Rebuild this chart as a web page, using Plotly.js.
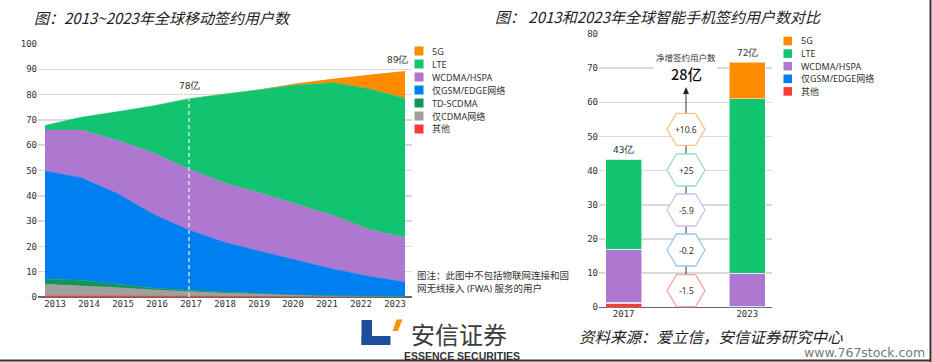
<!DOCTYPE html>
<html><head><meta charset="utf-8">
<script src="https://cdn.plot.ly/plotly-3.0.1.min.js"></script>
<style>html,body{margin:0;padding:0;background:#fff}#chart{width:932px;height:362px}</style>
</head><body><div id="chart"></div>
<script>
// ---------- data: left chart (亿 subscriptions) ----------
const years = [2013,2014,2015,2016,2017,2018,2019,2020,2021,2022,2023];
const yearLabels = years.map(String);
const areaNames = ['其他','仅CDMA网络','TD-SCDMA','仅GSM/EDGE网络','WCDMA/HSPA','LTE','5G'];
const subsOther   = [0.5,0.4,0.4,0.3,0.3,0.2,0.2,0.1,0.1,0.1,0.1];
const subsCDMA    = [4.5,4.0,3.3,2.5,1.7,1.3,1.0,0.7,0.3,0.2,0.1];
const subsTDSCDMA = [2.0,2.2,1.3,0.8,0.7,0.4,0.2,0.1,0.1,0.1,0.1];
const subsGSM     = [42.8,40.6,36.0,29.2,23.8,19.7,16.6,13.6,10.6,7.8,5.6];
const subsWCDMA   = [16.2,18.8,21.0,24.2,24.0,23.4,23.0,22.2,21.1,18.5,17.6];
const subsLTE     = [1.8,5.0,11.2,18.5,27.9,35.3,41.0,47.1,52.5,55.6,55.0];
const subs5G      = [0,0,0,0,0,0,0.1,0.7,1.6,5.5,10.8];
const markYears   = [2017,2023];
const markLabels  = ['78亿','89亿'];
const leftYTicks  = [0,10,20,30,40,50,60,70,80,90,100];

// ---------- data: right chart ----------
const barYears  = ['2017','2023'];
const barNames  = ['其他','仅GSM/EDGE网络','WCDMA/HSPA','LTE','5G'];
const barOther  = [1.2,0.2];
const barGSM    = [0.3,0.1];
const barWCDMA  = [15.5,9.7];
const barLTE    = [26.3,51.0];
const bar5G     = [0,10.7];
const barTotalLabels = ['43亿','72亿'];
const netChangeLabels = ['+10.6','+25','-5.9','-0.2','-1.5'];
const netChangeSeries = ['5G','LTE','WCDMA/HSPA','仅GSM/EDGE网络','其他'];
const netTitle = '净增签约用户数';
const netTotal = '28亿';
const rightYTicks = [0,10,20,30,40,50,60,70,80];

// ---------- styles ----------
const colors = {
  '5G':'#FF8C00','LTE':'#12C46F','WCDMA/HSPA':'#AE78D0','仅GSM/EDGE网络':'#0080F0',
  'TD-SCDMA':'#11965A','仅CDMA网络':'#A0A0A0','其他':'#FF3838'
};
const hexColors = {
  '5G':'#FFC28E','LTE':'#92E2B9','WCDMA/HSPA':'#D5BDE9','仅GSM/EDGE网络':'#95C6F8','其他':'#FFA3A3'
};
const W = 932, H = 362;
const PX = x => x / W, PY = y => 1 - y / H;
const mono = 'DejaVu Sans Mono, monospace';
const sans = 'Noto Sans, Noto Sans CJK SC, sans-serif';
const cjk = 'Noto Sans CJK SC, Noto Sans, sans-serif';

const areaSeries = [subsOther, subsCDMA, subsTDSCDMA, subsGSM, subsWCDMA, subsLTE, subs5G];
const traces = [];
areaSeries.forEach((vals, i) => {
  const name = areaNames[i];
  const is5G = name === '5G';
  traces.push({
    type:'scatter', x: years, y: vals, name, stackgroup:'one',
    mode: is5G ? 'none' : 'lines',
    line:{color: colors[name], width: is5G ? 0 : 0.6},
    fillcolor: colors[name], xaxis:'x', yaxis:'y', hoverinfo:'skip', showlegend:false
  });
});
// helper (invisible) trace carrying the year labels axis
traces.push({type:'scatter', x: years, y: years.map(() => 0), mode:'none', xaxis:'x3', yaxis:'y', hoverinfo:'skip', showlegend:false});

const barSeries = [barOther, barGSM, barWCDMA, barLTE, bar5G];
barSeries.forEach((vals, i) => {
  const name = barNames[i];
  traces.push({
    type:'bar', x: barYears.map((_, j) => j), y: vals, name, width: 0.293,
    marker:{color: colors[name], line:{color:'rgba(255,255,255,0.55)', width:1}},
    xaxis:'x2', yaxis:'y2', hoverinfo:'skip', showlegend:false
  });
});

// ---------- shapes & annotations ----------
const shapes = [], annotations = [];
const txt = (x, y, text, size, opts = {}) => annotations.push(Object.assign({
  xref:'paper', yref:'paper', x: PX(x), y: PY(y), text, showarrow:false,
  xanchor:'left', yanchor:'middle', font:{family: cjk, size, color:'#333'}
}, opts));

// titles
txt(32, 18, '图：2013~2023年全球移动签约用户数', 15, {font:{family:cjk, size:15, color:'#222', style:'italic'}});
txt(493, 16, '图： 2013和2023年全球智能手机签约用户数对比', 15, {font:{family:cjk, size:15, color:'#222', style:'italic'}});

// left legend (top to bottom)
const leftLegendOrder = areaNames.slice().reverse();
leftLegendOrder.forEach((name, i) => {
  const cy = 51 + i * 13;
  shapes.push({type:'rect', xref:'paper', yref:'paper', x0:PX(414.5), x1:PX(423.5), y0:PY(cy-4.5), y1:PY(cy+4.5), fillcolor:colors[name], line:{width:0}});
  txt(430, cy, name, 9, {font:{family:sans, size:9, color:'#333'}});
});
// right legend
const rightLegendOrder = barNames.slice().reverse();
rightLegendOrder.forEach((name, i) => {
  const cy = 41 + i * 12.6;
  shapes.push({type:'rect', xref:'paper', yref:'paper', x0:PX(783.5), x1:PX(792), y0:PY(cy-4.3), y1:PY(cy+4.3), fillcolor:colors[name], line:{width:0}});
  txt(799, cy, name, 9, {font:{family:sans, size:9, color:'#333'}});
});

// note
txt(415, 275, '图注：此图中不包括物联网连接和固', 9.5, {font:{family:sans, size:9.5, color:'#333'}});
txt(415, 288, '网无线接入 (FWA) 服务的用户', 9.5, {font:{family:sans, size:9.5, color:'#333'}});

// left chart marker line + labels
const totals = years.map((_, k) => areaSeries.reduce((s, a) => s + a[k], 0));
const k2017 = years.indexOf(markYears[0]);
shapes.push({type:'line', xref:'x', yref:'y', x0:markYears[0], x1:markYears[0], y0:0, y1:totals[k2017],
  line:{color:'rgba(240,240,240,0.95)', width:1.3, dash:'4px,3px'}, layer:'above'});
markYears.forEach((yr, i) => {
  const k = years.indexOf(yr);
  annotations.push({xref:'x', yref:'y', x: yr, y: totals[k], text: markLabels[i], showarrow:false,
    xanchor:'center', yanchor:'bottom', yshift: i === 0 ? 6 : 4, xshift: i === 0 ? 0 : -8,
    font:{family: mono, size:9.5, color:'#333'}});
});

// right chart totals
const barTotals = barYears.map((_, j) => barSeries.reduce((s, a) => s + a[j], 0));
barYears.forEach((_, j) => {
  annotations.push({xref:'x2', yref:'y2', x: j, y: barTotals[j], text: barTotalLabels[j], showarrow:false,
    xanchor:'center', yanchor:'bottom', yshift: 2, font:{family: mono, size:9.5, color:'#333'}});
});

// arrow line + head
const ax = 686;
shapes.push({type:'line', xref:'paper', yref:'paper', x0:PX(ax), x1:PX(ax), y0:PY(307), y1:PY(93), line:{color:'#333', width:1}, layer:'above'});
shapes.push({type:'path', xref:'paper', yref:'paper', layer:'above',
  path:`M ${PX(ax)} ${PY(87)} L ${PX(ax+3)} ${PY(94)} L ${PX(ax-3)} ${PY(94)} Z`, fillcolor:'#222', line:{width:0}});
// white box behind net title
shapes.push({type:'rect', xref:'paper', yref:'paper', layer:'above', x0:PX(654), x1:PX(717), y0:PY(81), y1:PY(50), fillcolor:'#fff', line:{width:0}});
txt(ax, 57, netTitle, 8.5, {xanchor:'center', font:{family:cjk, size:8.5, color:'#333'}});
txt(ax, 73, netTotal, 14.5, {xanchor:'center', font:{family:cjk, size:14.5, color:'#111', weight:500}});

// hexagons
const hexCenters = [129.3, 170, 210, 250, 290.7];
netChangeLabels.forEach((lab, i) => {
  const cy = hexCenters[i], a = 19, b = 16, c = 9.6;
  const pts = [[ax-a,cy],[ax-c,cy-b],[ax+c,cy-b],[ax+a,cy],[ax+c,cy+b],[ax-c,cy+b]];
  const path = 'M ' + pts.map(p => `${PX(p[0])} ${PY(p[1])}`).join(' L ') + ' Z';
  shapes.push({type:'path', xref:'paper', yref:'paper', layer:'above', path, fillcolor:'#fff',
    line:{color: hexColors[netChangeSeries[i]], width:1.3}});
  txt(ax, cy, lab, 8.5, {xanchor:'center', font:{family:sans, size:8.5, color:'#333'}});
});

// logo
const blue = '#1F4E9C', orange = '#F39800';
shapes.push({type:'rect', xref:'paper', yref:'paper', x0:PX(361.5), x1:PX(372), y0:PY(345), y1:PY(320), fillcolor:blue, line:{width:0}});
shapes.push({type:'rect', xref:'paper', yref:'paper', x0:PX(361.5), x1:PX(390.5), y0:PY(345), y1:PY(336), fillcolor:blue, line:{width:0}});
shapes.push({type:'path', xref:'paper', yref:'paper',
  path:`M ${PX(396.5)} ${PY(319.5)} L ${PX(402.5)} ${PY(319.5)} L ${PX(398)} ${PY(331)} L ${PX(392.5)} ${PY(331)} Z`, fillcolor:orange, line:{width:0}});
txt(409, 333, '安信证券', 24, {font:{family:cjk, size:24, color:'#3c3c3c'}});
txt(402, 356, 'ESSENCE SECURITIES', 10.5, {font:{family:'Liberation Sans, Arial, sans-serif', size:10.5, color:'#333', weight:700}});

// source + watermark
txt(577, 336, '资料来源：爱立信，安信证券研究中心', 15.5, {font:{family:cjk, size:15.5, color:'#222', style:'italic'}});
txt(927, 352, 'www.767stock.com', 12.5, {xanchor:'right', font:{family:'DejaVu Sans, sans-serif', size:12.5, color:'#777'}});

// frame lines (right and bottom)
shapes.push({type:'line', xref:'paper', yref:'paper', x0:PX(930.5), x1:PX(930.5), y0:0, y1:1, line:{color:'#333', width:2}});
shapes.push({type:'line', xref:'paper', yref:'paper', x0:0, x1:PX(931), y0:PY(360.5), y1:PY(360.5), line:{color:'#333', width:2}});

const tickFont = {family: mono, size: 9, color:'#333'};
const layout = {
  width: W, height: H, margin:{l:0, r:0, t:0, b:0},
  paper_bgcolor:'#fff', plot_bgcolor:'rgba(0,0,0,0)', showlegend:false, barmode:'stack',
  xaxis:{domain:[PX(38), PX(412)], range:[2012.806, 2023.194], showgrid:false, zeroline:false,
    showticklabels:false, showline:false, fixedrange:true},
  xaxis3:{overlaying:'x', anchor:'y', domain:[PX(38), PX(412)], range:[2012.5, 2023.5],
    tickmode:'array', tickvals: years, ticktext: yearLabels, showgrid:false, zeroline:false,
    showline:false, ticks:'', tickfont: tickFont},
  yaxis:{domain:[PY(297), PY(44)], range:[0,100], tickmode:'array', tickvals: leftYTicks,
    showgrid:true, gridcolor:'#d9d9d9', gridwidth:1.5, zeroline:true, zerolinecolor:'#666', zerolinewidth:1.5,
    showline:false, ticks:'', tickfont: tickFont, anchor:'x'},
  xaxis2:{domain:[PX(599), PX(772)], range:[-0.2, 1.2], tickmode:'array', tickvals: barYears.map((_, j) => j),
    ticktext: barYears, showgrid:false, zeroline:false, showline:false, ticks:'', tickfont: tickFont, anchor:'y2'},
  yaxis2:{domain:[PY(307.3), PY(34)], range:[0,80], tickmode:'array', tickvals: rightYTicks,
    showgrid:true, gridcolor:'#d9d9d9', gridwidth:1.5, zeroline:true, zerolinecolor:'#666', zerolinewidth:1.5,
    showline:false, ticks:'', tickfont: tickFont, anchor:'x2'},
  shapes, annotations
};
Plotly.newPlot('chart', traces, layout, {staticPlot:true, displayModeBar:false});
</script></body></html>
